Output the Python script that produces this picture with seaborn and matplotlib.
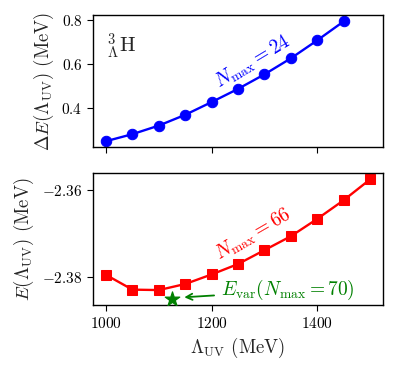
import numpy as np
import seaborn as sns
import matplotlib
matplotlib.use("Agg")
import matplotlib.pyplot as plt

# cutoff values (MeV)
cutoff_top = [1000, 1050, 1100, 1150, 1200, 1250, 1300, 1350, 1400, 1450]
delta_e = [0.247, 0.279, 0.318, 0.367, 0.425, 0.485, 0.551, 0.624, 0.706, 0.792]

cutoff_bot = [1000, 1050, 1100, 1150, 1200, 1250, 1300, 1350, 1400, 1450, 1500]
energy = [-2.3796, -2.3830, -2.3831, -2.3817, -2.3795, -2.3771, -2.3739,
          -2.3707, -2.3667, -2.3624, -2.3576]

# variational energy point
e_var_x = [1125]
e_var_y = [-2.3852]

sns.set_style("ticks")
plt.rcParams["font.family"] = "serif"
plt.rcParams["font.serif"] = ["cmr10", "DejaVu Serif"]
plt.rcParams["mathtext.fontset"] = "cm"
plt.rcParams["axes.formatter.use_mathtext"] = True
plt.rcParams["font.size"] = 11
plt.rcParams["axes.labelsize"] = 13.5
plt.rcParams["axes.edgecolor"] = "black"
plt.rcParams["axes.linewidth"] = 1.0
plt.rcParams["xtick.color"] = "black"
plt.rcParams["ytick.color"] = "black"

fig, (ax1, ax2) = plt.subplots(2, 1, figsize=(3.95, 3.69), dpi=100, sharex=True)
fig.subplots_adjust(left=0.235, right=0.97, top=0.958, bottom=0.173, hspace=0.2)

# top panel: energy difference
sns.lineplot(x=cutoff_top, y=delta_e, ax=ax1, color="blue", marker="o",
             markersize=7.5, markeredgecolor="blue", linewidth=1.7)
ax1.set_ylabel(r"$\Delta E(\Lambda_{\rm UV})$ (MeV)")
ax1.set_yticks([0.4, 0.6, 0.8])
ax1.text(0.05, 0.88, r"${}^{3}_{\Lambda}\mathrm{H}$", transform=ax1.transAxes,
         ha="left", va="top", fontsize=15)
ax1.text(1279, 0.606, r"$N_{\rm max} = 24$", color="blue", rotation=31,
         ha="center", va="center", fontsize=14)

# bottom panel: energy
sns.lineplot(x=cutoff_bot, y=energy, ax=ax2, color="red", marker="s",
             markersize=7, markeredgecolor="red", linewidth=1.7)
sns.scatterplot(x=e_var_x, y=e_var_y, ax=ax2, color="green", marker="*",
                s=120, edgecolor="green", zorder=5)
ax2.annotate("", xy=(1143, -2.3848), xytext=(1210, -2.3843),
             arrowprops=dict(arrowstyle="->", color="green", lw=1.3))
ax2.text(1218, -2.3831, r"$E_{\rm var}(N_{\rm max} = 70)$", color="green",
         ha="left", va="center", fontsize=14)
ax2.text(1279, -2.3704, r"$N_{\rm max} = 66$", color="red", rotation=30,
         ha="center", va="center", fontsize=14)
ax2.set_yticks([-2.38, -2.36])
ax2.set_ylabel(r"$E(\Lambda_{\rm UV})$ (MeV)")
ax2.set_xlabel(r"$\Lambda_{\rm UV}$ (MeV)")
ax2.set_xticks([1000, 1200, 1400])

for ax in (ax1, ax2):
    for side in ["top", "right", "left", "bottom"]:
        ax.spines[side].set_visible(True)
    ax.tick_params(direction="out", length=4, labelsize=11)

fig.savefig("out.png", dpi=100)
